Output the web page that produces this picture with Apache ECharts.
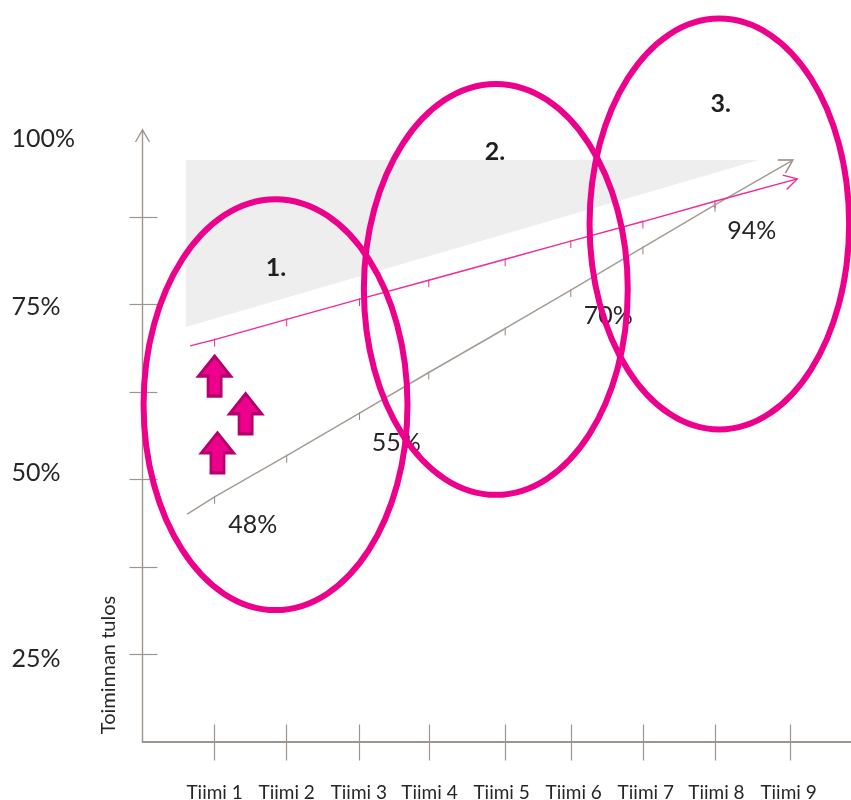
<!DOCTYPE html>
<html>
<head>
<meta charset="utf-8">
<title>Toiminnan tulos</title>
<style>html,body{margin:0;padding:0;background:#fff}#chart{width:851px;height:800px}</style>
<script src="https://cdn.jsdelivr.net/npm/echarts@6/dist/echarts.min.js"></script>
</head>
<body>
<div id="chart"></div>
<script>
// Team names and where they sit on the horizontal scale
const teamNames = ['Tiimi 1','Tiimi 2','Tiimi 3','Tiimi 4','Tiimi 5','Tiimi 6','Tiimi 7','Tiimi 8','Tiimi 9'];
const teamLabelSlots = [1.0, 2.0, 3.0, 3.98, 4.98, 5.98, 6.98, 7.96, 8.96];
const teamTickSlots = [1.0, 2.0, 3.01, 3.97, 5.03, 5.94, 6.94, 7.94, 8.98];

// Vertical scale
const yTickValues = [25, 37.5, 50, 62.5, 75, 87.5];
const yLabelSlots = [24.3, 51, 74.7, 98.7];
const yLabelTexts = ['25%', '50%', '75%', '100%'];

// Trend lines: start, one value per team, arrow tip
const grayTrendX = [0.62, 1.0, 2.0, 3.01, 3.97, 5.03, 5.94, 6.94, 7.94, 9.02];
const grayTrendY = [45.05, 47.5, 53.4, 59.5, 65.3, 71.6, 77.1, 83.2, 89.3, 95.7];
const pinkTrendX = [0.66, 1.0, 2.0, 3.01, 3.97, 5.03, 5.94, 6.94, 7.94, 9.08];
const pinkTrendY = [69.1, 70.0, 72.9, 75.8, 78.5, 81.5, 84.1, 86.9, 89.8, 93.0];

// Shaded target wedge
const wedgeX = [0.6, 8.55, 0.6];
const wedgeY = [95.7, 95.7, 71.8];

// Grouping ellipses: centre and radii in axis units
const ellipseX = [1.845, 4.9, 8.0];
const ellipseY = [60.7, 77.2, 86.55];
const ellipseRadiusX = [1.83, 1.83, 1.8];
const ellipseRadiusY = [29.4, 29.4, 29.4];
const ellipseNames = ['1.', '2.', '3.'];
const ellipseNameX = [1.85, 4.89, 8.02];
const ellipseNameY = [80.25, 96.85, 103.7];

// Percentage annotations
const noteTexts = ['48%', '55%', '70%', '94%'];
const noteValues = [48, 55, 70, 94];
const noteX = [1.53, 3.52, 6.46, 8.45];
const noteOffsets = [32, -2, -24, 59];

// Improvement arrows
const upArrowX = [1.0, 1.43, 1.04];
const upArrowY = [64.8, 59.4, 53.8];

const PINK = '#ec008c';
const AXIS = '#9e968e';
const FONT = 'Lato, "Open Sans", sans-serif';
const zip = (a, b) => a.map((v, i) => [v, b[i]]);

// Small tick on each team value, open arrow head on the last point
function trendDecor(color) {
  return function (params, api) {
    const i = params.dataIndex;
    const n = params.dataInsideLength;
    const p = api.coord([api.value(0), api.value(1)]);
    if (i === 0) return null;
    if (i === n - 1) {
      const prev = api.coord([api.value(2), api.value(3)]);
      const a = Math.atan2(p[1] - prev[1], p[0] - prev[0]);
      const w = 15, s = Math.PI / 6;
      return {
        type: 'polyline',
        shape: { points: [
          [p[0] - w * Math.cos(a - s), p[1] - w * Math.sin(a - s)], p,
          [p[0] - w * Math.cos(a + s), p[1] - w * Math.sin(a + s)]
        ] },
        style: { stroke: color, lineWidth: 1.4, fill: null }
      };
    }
    return {
      type: 'line',
      shape: { x1: p[0], y1: p[1] - 1, x2: p[0], y2: p[1] + 7 },
      style: { stroke: color, lineWidth: 1 }
    };
  };
}

function trendRows(xs, ys) {
  return xs.map((x, i) => [x, ys[i], xs[i - 1] ?? x, ys[i - 1] ?? ys[i]]);
}

const option = {
  animation: false,
  backgroundColor: '#fff',
  textStyle: { fontFamily: FONT },
  grid: { left: 142.5, top: 130, width: 708.5, height: 611.5, containLabel: false, outerBoundsMode: 'none' },
  xAxis: [
    {
      type: 'value', min: 0, max: 9.826, position: 'bottom', splitLine: { show: false },
      axisLine: { show: true, onZero: false, lineStyle: { color: AXIS, width: 2 } },
      axisTick: { show: true, length: 19, customValues: teamTickSlots, lineStyle: { color: AXIS, width: 1.2 } },
      axisLabel: {
        show: true, customValues: teamLabelSlots, margin: 42, fontSize: 19, color: '#262626', fontFamily: FONT,
        formatter: v => teamNames[teamLabelSlots.indexOf(v)]
      }
    },
    {
      type: 'value', min: 0, max: 9.826, position: 'bottom', splitLine: { show: false },
      axisLine: { show: false, onZero: false },
      axisTick: { show: true, inside: true, length: 17, customValues: teamTickSlots, lineStyle: { color: AXIS, width: 1.2 } },
      axisLabel: { show: false }
    }
  ],
  yAxis: [
    {
      type: 'value', min: 12.5, max: 100, interval: 12.5, position: 'left', splitLine: { show: false },
      axisLine: { show: true, onZero: false, lineStyle: { color: AXIS, width: 1.4 } },
      axisTick: { show: true, length: 13, customValues: yTickValues, lineStyle: { color: AXIS, width: 1.2 } },
      axisLabel: {
        show: true, customValues: yLabelSlots, margin: 131, align: 'left', fontSize: 25, color: '#262626', fontFamily: FONT,
        formatter: v => yLabelTexts[yLabelSlots.indexOf(v)]
      }
    },
    {
      type: 'value', min: 12.5, max: 100, interval: 12.5, position: 'left', splitLine: { show: false },
      axisLine: { show: false, onZero: false },
      axisTick: { show: true, inside: true, length: 15, customValues: yTickValues, lineStyle: { color: AXIS, width: 1.2 } },
      axisLabel: { show: false }
    }
  ],
  graphic: [{
    type: 'text', x: 109, y: 665, rotation: Math.PI / 2, z: 10,
    style: { text: 'Toiminnan tulos', fontSize: 20, fontFamily: FONT, fill: '#262626', align: 'center', verticalAlign: 'middle' }
  }],
  series: [
    {
      // Target wedge
      type: 'custom', z: 1, silent: true, coordinateSystem: 'cartesian2d',
      data: zip(wedgeX, wedgeY),
      renderItem: (params, api) => {
        if (params.dataIndex !== 0) return null;
        return {
          type: 'polygon',
          shape: { points: wedgeX.map((x, i) => api.coord([x, wedgeY[i]])) },
          style: { fill: '#eeeeee' }
        };
      }
    },
    {
      // Arrow head of the vertical axis
      type: 'custom', z: 2, silent: true, clip: false,
      data: [[0, 100]],
      renderItem: (params, api) => {
        const p = api.coord([api.value(0), api.value(1)]);
        return {
          type: 'polyline',
          shape: { points: [[p[0] - 7, p[1] + 12], p, [p[0] + 7, p[1] + 12]] },
          style: { stroke: AXIS, lineWidth: 1.4, fill: null }
        };
      }
    },
    {
      type: 'line', z: 3, silent: true, symbol: 'none',
      data: zip(grayTrendX, grayTrendY),
      lineStyle: { color: '#a49c94', width: 1.5 }
    },
    {
      type: 'line', z: 3, silent: true, symbol: 'none',
      data: zip(pinkTrendX, pinkTrendY),
      lineStyle: { color: '#ee2a9b', width: 1.4 }
    },
    {
      type: 'custom', z: 3, silent: true, clip: false,
      data: trendRows(grayTrendX, grayTrendY),
      encode: { x: 0, y: 1 },
      renderItem: trendDecor('#8f877f')
    },
    {
      type: 'custom', z: 3, silent: true, clip: false,
      data: trendRows(pinkTrendX, pinkTrendY),
      encode: { x: 0, y: 1 },
      renderItem: trendDecor('#ee2a9b')
    },
    {
      // Improvement arrows
      type: 'scatter', z: 4, silent: true,
      data: zip(upArrowX, upArrowY),
      symbol: 'path://M17 0L34 21H24V42H10V21H0Z',
      symbolSize: [32, 40],
      symbolKeepAspect: false,
      itemStyle: { color: PINK, borderColor: '#b5006e', borderWidth: 3, opacity: 1 }
    },
    {
      // Percentage annotations, drawn under the ellipses
      type: 'scatter', z: 4, silent: true, clip: false, symbolSize: 1,
      itemStyle: { color: 'transparent', opacity: 1 },
      data: noteValues.map((v, i) => ({
        value: [noteX[i], v],
        label: {
          show: true, position: 'inside', offset: [0, noteOffsets[i]],
          formatter: noteTexts[i], fontSize: 25, color: '#262626', fontFamily: FONT
        }
      }))
    },
    {
      // Grouping ellipses
      type: 'custom', z: 5, zlevel: 1, silent: true, clip: false,
      data: ellipseX.map((x, i) => [x, ellipseY[i], ellipseRadiusX[i], ellipseRadiusY[i]]),
      encode: { x: 0, y: 1 },
      renderItem: (params, api) => {
        const c = api.coord([api.value(0), api.value(1)]);
        const s = api.size([api.value(2), api.value(3)]);
        return {
          type: 'ellipse',
          shape: { cx: c[0], cy: c[1], rx: s[0], ry: s[1] },
          style: { stroke: PINK, lineWidth: 6, fill: null }
        };
      }
    },
    {
      // Ellipse numbers
      type: 'scatter', z: 6, silent: true, clip: false, symbolSize: 1,
      itemStyle: { color: 'transparent', opacity: 1 },
      data: ellipseNames.map((t, i) => ({
        value: [ellipseNameX[i], ellipseNameY[i]],
        label: {
          show: true, position: 'inside', formatter: t, fontSize: 25, fontWeight: 'bold',
          color: '#1f1f1f', fontFamily: FONT
        }
      }))
    }
  ]
};

const chart = echarts.init(document.getElementById('chart'), null, { renderer: 'canvas' });
chart.setOption(option);
</script>
</body>
</html>
